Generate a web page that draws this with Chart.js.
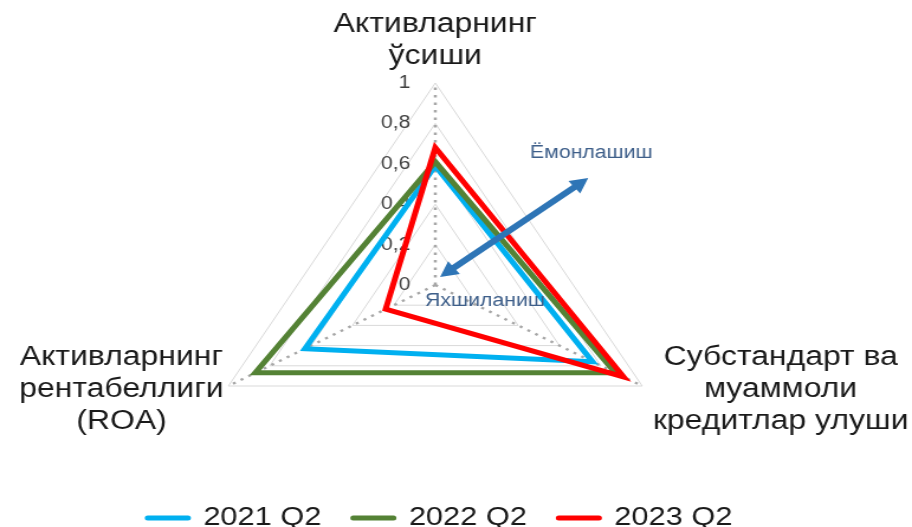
<!DOCTYPE html>
<html>
<head>
<meta charset="utf-8">
<script src="https://cdn.jsdelivr.net/npm/chart.js@4.4.1/dist/chart.umd.min.js"></script>
<style>
  html, body { margin: 0; padding: 0; background: #fff; }
  #chart { display: block; }
</style>
</head>
<body>
<!-- the source picture is stretched sideways, so the canvas is too -->
<canvas id="chart" width="771" height="527" style="width:912px;height:527px"></canvas>
<script>
const axisLabels = [
  ['Активларнинг', 'ўсиши'],
  ['Субстандарт ва', 'муаммоли', 'кредитлар улуши'],
  ['Активларнинг', 'рентабеллиги', '(ROA)']
];
const seriesNames = ['2021 Q2', '2022 Q2', '2023 Q2'];
const values2021 = [0.59, 0.76, 0.63];
const values2022 = [0.61, 0.87, 0.87];
const values2023 = [0.68, 0.91, 0.24];
const tickValues = [0, 0.2, 0.4, 0.6, 0.8, 1];
const tickLabels = ['0', '0,2', '0,4', '0,6', '0,8', '1'];
const worseLabel = 'Ёмонлашиш';
const betterLabel = 'Яхшиланиш';

const FONT = '"Liberation Sans", Arial, sans-serif';
Chart.defaults.font.family = FONT;

function drawArrow(ctx, x1, y1, x2, y2) {
  const len = Math.hypot(x2 - x1, y2 - y1);
  const head = 15, half = 8, shaft = 3;
  ctx.save();
  ctx.translate(x1, y1);
  ctx.rotate(Math.atan2(y2 - y1, x2 - x1));
  ctx.beginPath();
  ctx.moveTo(0, 0);
  ctx.lineTo(head, -half);
  ctx.lineTo(head, -shaft);
  ctx.lineTo(len - head, -shaft);
  ctx.lineTo(len - head, -half);
  ctx.lineTo(len, 0);
  ctx.lineTo(len - head, half);
  ctx.lineTo(len - head, shaft);
  ctx.lineTo(head, shaft);
  ctx.lineTo(head, half);
  ctx.closePath();
  ctx.fill();
  ctx.restore();
}

// where each axis title sits relative to its vertex
const labelPlacement = [
  { align: 'center', dx: 0, dy: -42 },
  { align: 'left', dx: 9, dy: 4 },
  { align: 'right', dx: -4, dy: 4 }
];
const LINE_H = 32;

const radarExtras = {
  id: 'radarExtras',
  beforeDatasetsDraw(chart) {
    const ctx = chart.ctx, r = chart.scales.r;
    ctx.save();
    ctx.font = '18px ' + FONT;
    ctx.fillStyle = '#404040';
    ctx.textAlign = 'right';
    ctx.textBaseline = 'middle';
    r.ticks.forEach(t => {
      ctx.fillText(t.label, r.xCenter - 21, r.yCenter - r.getDistanceFromCenterForValue(t.value));
    });

    ctx.font = '27px ' + FONT;
    ctx.fillStyle = '#1a1a1a';
    ctx.textAlign = 'center';
    chart.data.labels.forEach((lines, i) => {
      const p = r.getPointPosition(i, r.drawingArea);
      const pl = labelPlacement[i];
      const w = Math.max(...lines.map(l => ctx.measureText(l).width));
      let cx = p.x + pl.dx;
      if (pl.align === 'left') cx += w / 2;
      if (pl.align === 'right') cx -= w / 2;
      const top = p.y + pl.dy - (lines.length - 1) * LINE_H / 2;
      lines.forEach((l, k) => ctx.fillText(l, cx, top + k * LINE_H));
    });
    ctx.restore();
  },
  afterDatasetsDraw(chart) {
    const ctx = chart.ctx, r = chart.scales.r;
    const R = r.drawingArea;
    const at = (fx, fy) => [r.xCenter + fx * R, r.yCenter + fy * R];
    ctx.save();
    ctx.fillStyle = '#2e75b6';
    drawArrow(ctx, ...at(0.02, -0.04), ...at(0.64, -0.53));

    ctx.font = '18px ' + FONT;
    ctx.fillStyle = '#3e5f8a';
    ctx.textAlign = 'center';
    ctx.textBaseline = 'middle';
    ctx.fillText(worseLabel, ...at(0.653, -0.653));
    ctx.fillText(betterLabel, ...at(0.208, 0.079));
    ctx.restore();
  }
};

const ctx = document.getElementById('chart').getContext('2d');

new Chart(ctx, {
  type: 'radar',
  data: {
    labels: axisLabels,
    datasets: [
      { label: seriesNames[0], data: values2021, borderColor: '#00b0f0', order: 3 },
      { label: seriesNames[1], data: values2022, borderColor: '#548235', order: 2 },
      { label: seriesNames[2], data: values2023, borderColor: '#ff0000', order: 1 }
    ].map(d => Object.assign(d, {
      borderWidth: 5,
      fill: false,
      tension: 0,
      pointRadius: 0,
      pointHoverRadius: 0,
      clip: false
    }))
  },
  options: {
    responsive: false,
    animation: false,
    events: [],
    layout: { padding: { left: 0, right: 27, top: 0, bottom: -14 } },
    plugins: {
      tooltip: { enabled: false },
      legend: {
        position: 'bottom',
        labels: {
          usePointStyle: true,
          pointStyle: 'line',
          pointStyleWidth: 34,
          padding: 27,
          color: '#1a1a1a',
          font: { size: 26 },
          sort: (a, b) => a.datasetIndex - b.datasetIndex,
          generateLabels: chart => Chart.defaults.plugins.legend.labels.generateLabels(chart)
            .map(item => Object.assign(item, { lineWidth: 5, lineCap: 'round', pointStyle: 'line' }))
        }
      }
    },
    scales: {
      r: {
        min: 0,
        max: 1,
        ticks: {
          display: false,
          stepSize: 0.2,
          callback: v => {
            const i = tickValues.findIndex(t => Math.abs(t - v) < 1e-6);
            return i >= 0 ? tickLabels[i] : '';
          }
        },
        pointLabels: { display: false },
        grid: { circular: false, color: '#d9d9d9', lineWidth: 1 },
        angleLines: { color: '#a6a6a6', lineWidth: 2.5, borderDash: [2.5, 5] },
        afterFit: s => {
          // centre and radius
          s.xCenter = 368;
          s.yCenter = 285;
          s.drawingArea = 202;
        }
      }
    }
  },
  plugins: [radarExtras]
});
</script>
</body>
</html>
